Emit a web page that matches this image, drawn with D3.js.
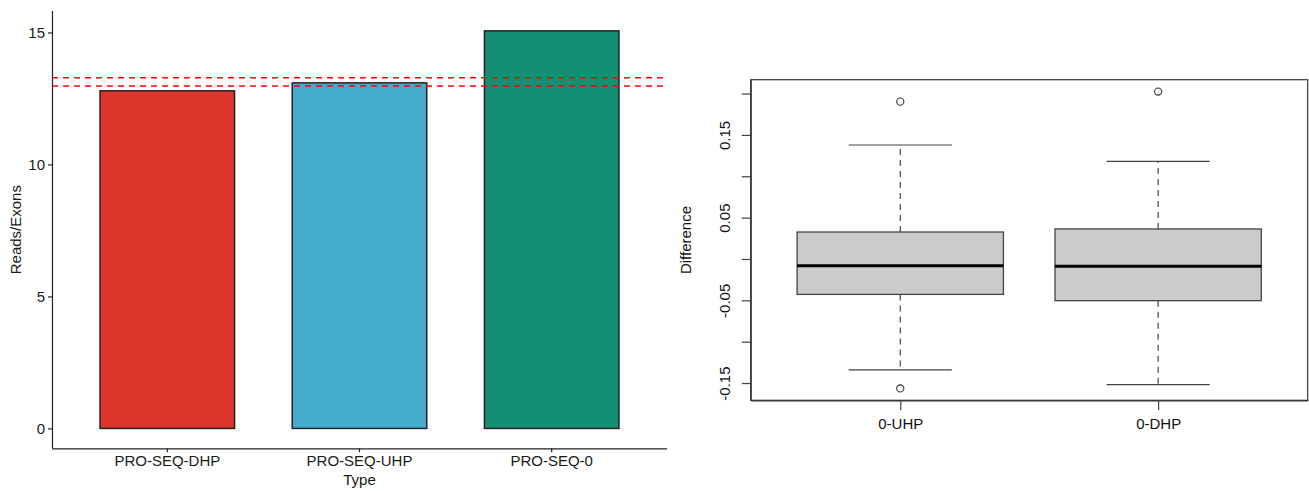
<!DOCTYPE html>
<html>
<head>
<meta charset="utf-8">
<script src="https://cdn.jsdelivr.net/npm/d3@7"></script>
<style>
  body { margin: 0; background: #fff; }
  text { font-family: "Liberation Sans", Arial, sans-serif; }
</style>
</head>
<body>
<div id="chart"></div>
<script>
// left panel: bar chart
var barCategories = ["PRO-SEQ-DHP", "PRO-SEQ-UHP", "PRO-SEQ-0"];
var barValues = [12.79, 13.09, 15.06];
var refLines = [13.28, 12.97];
var barTicks = [0, 5, 10, 15];

// right panel: box plot
var boxGroups = ["0-UHP", "0-DHP"];
var boxLower = [-0.134, -0.152];
var boxQ1 = [-0.0428, -0.0504];
var boxMedian = [-0.0082, -0.0089];
var boxQ3 = [0.0326, 0.0363];
var boxUpper = [0.1378, 0.1181];
var boxOutliers = [[0.1902, -0.1565], [0.2024]];
var boxTicks = [-0.15, -0.10, -0.05, 0.00, 0.05, 0.10, 0.15, 0.20];
var boxTickLabels = ["-0.15", "", "-0.05", "", "0.05", "", "0.15", ""];

(function() {
  var width = 1309,
    height = 491;

  var svg = d3.select("#chart")
    .append("svg")
    .attr("width", width)
    .attr("height", height);

  // ---------- bars ----------
  var left = svg.append("g");

  var yMax = d3.max(barValues);
  var yL = d3.scaleLinear()
    .domain([-0.05 * yMax, yMax * 1.05])
    .range([448.3, 11]);

  var xL = d3.scaleBand()
    .domain(barCategories)
    .range([52, 667])
    .paddingInner(0.3)
    .paddingOuter(0.25);

  var fill = d3.scaleOrdinal()
    .domain(barCategories)
    .range(["#dd3529", "#42acca", "#138f73"]);

  left.selectAll(".bar")
    .data(barCategories)
    .enter().append("rect")
    .attr("class", "bar")
    .attr("x", function(d) { return xL(d); })
    .attr("width", xL.bandwidth())
    .attr("y", function(d, i) { return yL(barValues[i]); })
    .attr("height", function(d, i) { return yL(0) - yL(barValues[i]); })
    .attr("fill", function(d) { return fill(d); })
    .attr("stroke", "#222")
    .attr("stroke-width", 1.5);

  left.selectAll(".ref")
    .data(refLines)
    .enter().append("line")
    .attr("class", "ref")
    .attr("x1", 52)
    .attr("x2", 667)
    .attr("y1", function(d) { return yL(d); })
    .attr("y2", function(d) { return yL(d); })
    .attr("stroke", "#ff0000")
    .attr("stroke-width", 1.5)
    .attr("stroke-dasharray", "6,5");

  var yAxisL = left.append("g")
    .attr("transform", "translate(52,0)")
    .call(d3.axisLeft(yL).tickValues(barTicks).tickSize(4).tickPadding(3).tickSizeOuter(0));

  var xAxisL = left.append("g")
    .attr("transform", "translate(0,448.3)")
    .call(d3.axisBottom(xL).tickSize(4).tickPadding(3).tickSizeOuter(0));

  [yAxisL, xAxisL].forEach(function(ax) {
    ax.select(".domain").attr("stroke", "#222").attr("stroke-width", 1.2);
    ax.selectAll(".tick line").attr("stroke", "#222").attr("stroke-width", 1.2);
    ax.selectAll("text").attr("font-size", 15).attr("fill", "#1a1a1a")
      .attr("font-family", "Liberation Sans, Arial, sans-serif");
  });
  // the axis lines should span the full panel
  yAxisL.select(".domain").attr("d", "M0.5,11V448.3");
  xAxisL.select(".domain").attr("d", "M52,0.5H667");

  left.append("text")
    .attr("x", (52 + 667) / 2)
    .attr("y", 485)
    .attr("text-anchor", "middle")
    .attr("font-size", 15)
    .attr("fill", "#1a1a1a")
    .text("Type");

  left.append("text")
    .attr("transform", "translate(21," + ((11 + 448.3) / 2) + ") rotate(-90)")
    .attr("text-anchor", "middle")
    .attr("font-size", 15)
    .attr("fill", "#1a1a1a")
    .text("Reads/Exons");

  // ---------- box plot ----------
  var right = svg.append("g");

  var allVals = boxLower.concat(boxUpper, d3.merge(boxOutliers));
  var lo = d3.min(allVals), hi = d3.max(allVals), span = hi - lo;
  var yR = d3.scaleLinear()
    .domain([lo - 0.04 * span, hi + 0.04 * span])
    .range([400.3, 79.7]);

  var xR = d3.scaleLinear()
    .domain([0.42, 2.58])
    .range([750.7, 1307.7]);

  var boxW = xR(1.4) - xR(1);
  var boxes = right.selectAll(".box")
    .data(boxGroups)
    .enter().append("g")
    .attr("class", "box");

  // whiskers (dashed)
  boxes.append("line")
    .attr("x1", function(d, i) { return xR(i + 1); })
    .attr("x2", function(d, i) { return xR(i + 1); })
    .attr("y1", function(d, i) { return yR(boxQ3[i]); })
    .attr("y2", function(d, i) { return yR(boxUpper[i]); })
    .attr("stroke", "#444").attr("stroke-width", 1.2).attr("stroke-dasharray", "6,5");
  boxes.append("line")
    .attr("x1", function(d, i) { return xR(i + 1); })
    .attr("x2", function(d, i) { return xR(i + 1); })
    .attr("y1", function(d, i) { return yR(boxQ1[i]); })
    .attr("y2", function(d, i) { return yR(boxLower[i]); })
    .attr("stroke", "#444").attr("stroke-width", 1.2).attr("stroke-dasharray", "6,5");

  // caps
  [boxUpper, boxLower].forEach(function(arr) {
    boxes.append("line")
      .attr("x1", function(d, i) { return xR(i + 1) - boxW / 2; })
      .attr("x2", function(d, i) { return xR(i + 1) + boxW / 2; })
      .attr("y1", function(d, i) { return yR(arr[i]); })
      .attr("y2", function(d, i) { return yR(arr[i]); })
      .attr("stroke", "#444").attr("stroke-width", 1.2);
  });

  boxes.append("rect")
    .attr("x", function(d, i) { return xR(i + 1) - boxW; })
    .attr("width", boxW * 2)
    .attr("y", function(d, i) { return yR(boxQ3[i]); })
    .attr("height", function(d, i) { return yR(boxQ1[i]) - yR(boxQ3[i]); })
    .attr("fill", "#cbcbcb")
    .attr("stroke", "#444")
    .attr("stroke-width", 1.3);

  boxes.append("line")
    .attr("x1", function(d, i) { return xR(i + 1) - boxW; })
    .attr("x2", function(d, i) { return xR(i + 1) + boxW; })
    .attr("y1", function(d, i) { return yR(boxMedian[i]); })
    .attr("y2", function(d, i) { return yR(boxMedian[i]); })
    .attr("stroke", "#000").attr("stroke-width", 3);

  boxes.selectAll(".out")
    .data(function(d, i) { return boxOutliers[i].map(function(v) { return { x: i + 1, v: v }; }); })
    .enter().append("circle")
    .attr("class", "out")
    .attr("cx", function(d) { return xR(d.x); })
    .attr("cy", function(d) { return yR(d.v); })
    .attr("r", 3.6)
    .attr("fill", "none")
    .attr("stroke", "#333")
    .attr("stroke-width", 1.1);

  // frame
  right.append("rect")
    .attr("x", 750.7)
    .attr("y", 79.7)
    .attr("width", 1307.7 - 750.7)
    .attr("height", 400.3 - 79.7)
    .attr("fill", "none")
    .attr("stroke", "#333")
    .attr("stroke-width", 1.2);

  var yAxisR = right.append("g")
    .attr("transform", "translate(750.7,0)")
    .call(d3.axisLeft(yR).tickValues(boxTicks).tickSize(9).tickSizeOuter(0)
      .tickFormat(function(d, i) { return boxTickLabels[i]; }));
  yAxisR.selectAll("text")
    .attr("transform", "rotate(-90)")
    .attr("x", 0)
    .attr("y", -21)
    .attr("dy", 0)
    .attr("text-anchor", "middle");

  var xAxisR = right.append("g")
    .attr("transform", "translate(0,400.3)")
    .call(d3.axisBottom(xR).tickValues([1, 2]).tickSize(10).tickPadding(8).tickSizeOuter(0)
      .tickFormat(function(d) { return boxGroups[d - 1]; }));

  [yAxisR, xAxisR].forEach(function(ax) {
    ax.select(".domain").attr("stroke", "#333").attr("stroke-width", 1.2);
    ax.selectAll(".tick line").attr("stroke", "#444").attr("stroke-width", 1.2);
    ax.selectAll("text").attr("font-size", 15).attr("fill", "#111")
      .attr("font-family", "Liberation Sans, Arial, sans-serif");
  });

  right.append("text")
    .attr("transform", "translate(691," + ((79.7 + 400.3) / 2) + ") rotate(-90)")
    .attr("text-anchor", "middle")
    .attr("font-size", 15)
    .attr("fill", "#111")
    .text("Difference");
})();
</script>
</body>
</html>
